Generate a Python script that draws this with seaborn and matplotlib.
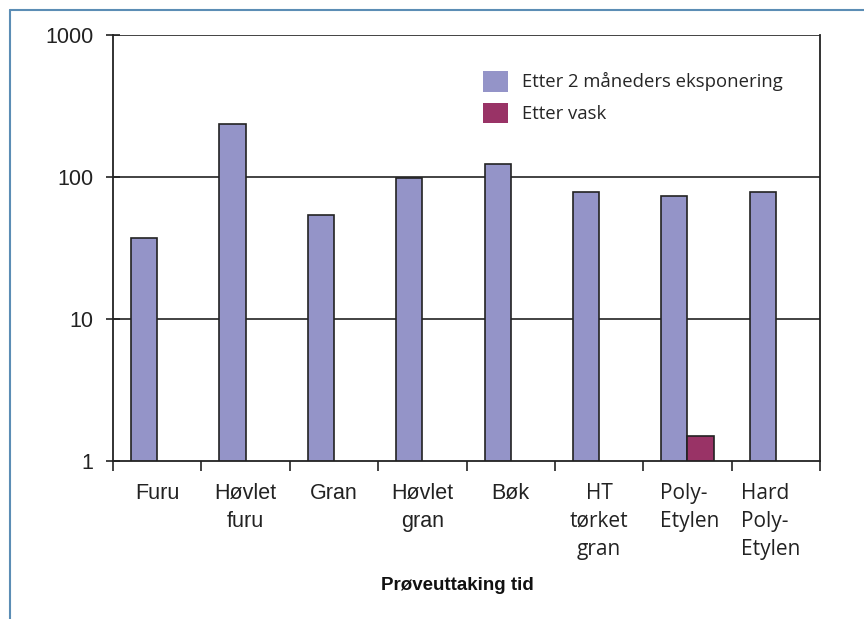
import matplotlib
matplotlib.use("Agg")
import matplotlib.pyplot as plt
import matplotlib.patches as mpatches
import numpy as np
import pandas as pd
import seaborn as sns

categories = ["Furu", "Høvlet\nfuru", "Gran", "Høvlet\ngran", "Bøk",
              "HT\ntørket\ngran", "Poly-\nEtylen", "Hard\nPoly-\nEtylen"]
series_names = ["Etter 2 måneders eksponering", "Etter vask"]
exposed = [37, 236, 54, 98, 124, 78, 73.5, 78]
washed = [np.nan, np.nan, np.nan, np.nan, np.nan, np.nan, 1.5, np.nan]
colors = ["#9494c8", "#993366"]

df = pd.DataFrame({
    "kategori": categories * 2,
    "serie": [series_names[0]] * len(categories) + [series_names[1]] * len(categories),
    "verdi": exposed + washed,
})

sns.set_theme(style="white")
plt.rcParams["font.family"] = ["Liberation Sans", "DejaVu Sans"]

fig = plt.figure(figsize=(8.64, 6.19), dpi=100)
ax = fig.add_axes([113 / 864, 1 - 461 / 619, 707 / 864, 426 / 619])

sns.barplot(data=df.dropna(), x="kategori", y="verdi", hue="serie",
            order=categories, hue_order=series_names, palette=colors,
            width=0.59, saturation=1, edgecolor="#222222", linewidth=1.2,
            ax=ax, legend=False)

ax.set_yscale("log")
ax.set_ylim(1, 1000)
ax.set_xlim(-0.5, len(categories) - 0.5)
ax.set_yticks([1, 10, 100, 1000])
ax.set_yticklabels(["1", "10", "100", "1000"])
ax.yaxis.set_minor_locator(matplotlib.ticker.NullLocator())
for v in [10, 100, 1000]:
    ax.axhline(v, color="#222222", lw=1.2, zorder=0.5)

for side in ["left", "bottom", "right"]:
    ax.spines[side].set_visible(True)
    ax.spines[side].set_color("#222222")
    ax.spines[side].set_linewidth(1.3)
ax.spines["top"].set_visible(False)

ax.tick_params(axis="y", which="major", direction="inout", length=10, width=1.2,
               color="#222222", labelsize=15.5, pad=9, left=True,
               labelcolor="#222222")
ax.set_xticks(np.arange(-0.5, len(categories), 1.0))
ax.set_xticklabels([])
ax.tick_params(axis="x", which="major", direction="out", length=7, width=1.2,
               color="#222222", bottom=True)

frutiger_like = {"HT\ntørket\ngran", "Poly-\nEtylen", "Hard\nPoly-\nEtylen"}
left_shift = {"Poly-\nEtylen": 0.31, "Hard\nPoly-\nEtylen": 0.39}
for i, lab in enumerate(categories):
    if lab in left_shift:
        x, ha = i - left_shift[lab], "left"
    else:
        x, ha = i, "center"
    fam = ["Open Sans", "DejaVu Sans"] if lab in frutiger_like else ["Liberation Sans", "DejaVu Sans"]
    size = 15 if lab in frutiger_like else 15.5
    ax.text(x, -0.052, lab, transform=ax.get_xaxis_transform(), ha=ha,
            va="top", multialignment=ha, fontsize=size, linespacing=1.42,
            color="#222222", family=fam)

ax.set_xlabel("")
ax.set_ylabel("")
fig.text(457 / 864, 1 - 585 / 619, "Prøveuttaking tid", ha="center", va="center",
         fontsize=13.5, fontweight="bold", color="#111111")

handles = [mpatches.Patch(facecolor=c, edgecolor="none", label=n)
           for c, n in zip(colors, series_names)]
leg = ax.legend(handles=handles, loc="upper left", bbox_to_anchor=(0.5, 0.955),
                frameon=False, handlelength=1.35, handleheight=1.35,
                handletextpad=0.75, labelspacing=0.6,
                prop={"family": ["Open Sans", "DejaVu Sans"], "size": 13.3})

# thin blue frame along the top and left edges
fig.add_artist(plt.Line2D([10 / 864, 1.0], [1 - 10 / 619, 1 - 10 / 619],
                          transform=fig.transFigure, color="#5b8db5", lw=1.5))
fig.add_artist(plt.Line2D([10 / 864, 10 / 864], [0.0, 1 - 10 / 619],
                          transform=fig.transFigure, color="#5b8db5", lw=1.5))

fig.savefig("out.png", dpi=100)
